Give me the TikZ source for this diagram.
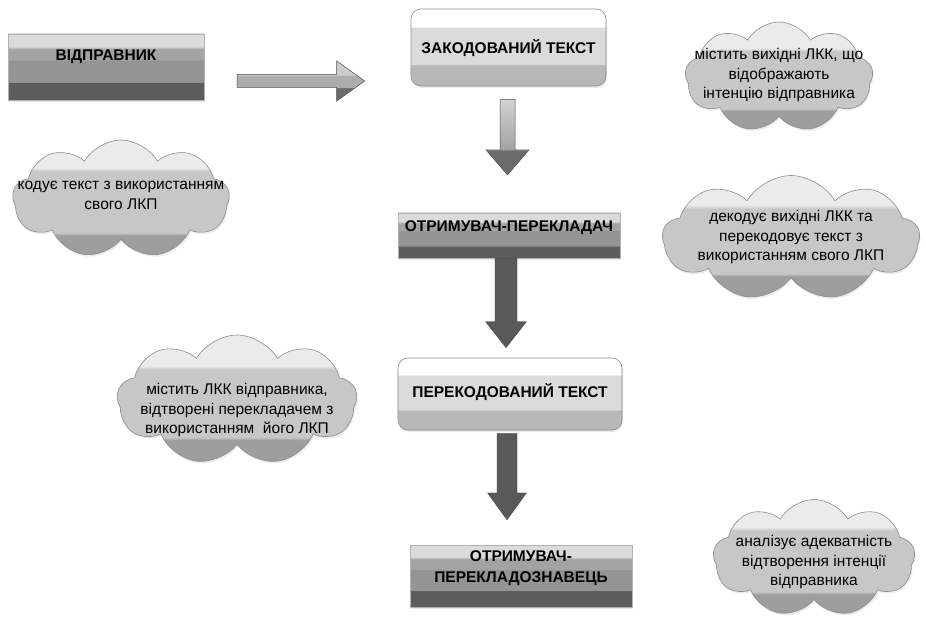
\documentclass[tikz,border=0pt]{standalone}
\usepackage{fontspec}
\setmainfont{Liberation Sans}
\usetikzlibrary{shapes.symbols,calc,shadows}

\definecolor{dkb}{gray}{0.36}
\definecolor{mdbA}{gray}{0.58}
\definecolor{mdbB}{gray}{0.64}
\definecolor{ltb}{gray}{0.86}
\definecolor{lbBot}{gray}{0.72}
\definecolor{lbMid}{gray}{0.86}
\definecolor{clLt}{gray}{0.92}
\definecolor{clMd}{gray}{0.78}
\definecolor{clDk}{gray}{0.62}
\definecolor{edge}{gray}{0.55}
\definecolor{arrDark}{gray}{0.35}
\definecolor{raLt}{gray}{0.80}
\definecolor{raMd}{gray}{0.68}
\definecolor{raDk}{gray}{0.42}
\definecolor{daTop}{gray}{0.82}
\definecolor{daMid}{gray}{0.64}

\pgfdeclareverticalshading{darkboxsh}{100bp}{color(0bp)=(dkb); color(38bp)=(dkb); color(38.6bp)=(mdbA); color(55bp)=(mdbA); color(55.6bp)=(mdbB); color(63.5bp)=(mdbB); color(65.5bp)=(ltb); color(100bp)=(ltb)}
\pgfdeclareverticalshading{lightboxsh}{100bp}{color(0bp)=(lbBot); color(38.5bp)=(lbBot); color(39.2bp)=(lbMid); color(62.8bp)=(lbMid); color(63.5bp)=(white); color(100bp)=(white)}
\pgfdeclareverticalshading{cloudsh}{100bp}{color(0bp)=(clDk); color(34bp)=(clDk); color(35bp)=(clMd); color(61.5bp)=(clMd); color(63bp)=(clLt); color(100bp)=(clLt)}
\pgfdeclareverticalshading{rarrsh}{100bp}{color(0bp)=(raDk); color(41.3bp)=(raDk); color(41.8bp)=(raMd); color(57bp)=(raMd); color(57.5bp)=(raLt); color(100bp)=(raLt)}
\pgfdeclareverticalshading{darrsh}{100bp}{color(0bp)=(raDk); color(41.3bp)=(raDk); color(41.8bp)=(daMid); color(75bp)=(daTop); color(100bp)=(daTop)}

\newcommand\zb[2]{\raisebox{#1}[0pt][0pt]{\makebox[0pt]{\begin{tabular}{@{}c@{}}#2\end{tabular}}}}
\newcommand\rarrow[6]{\path[#1] let \p1=(#2), \p2=(#3) in (\x1,\y1+#4) -- (\x2-#6,\y1+#4) -- (\x2-#6,\y1+#5) -- (\x2,\y1) -- (\x2-#6,\y1-#5) -- (\x2-#6,\y1-#4) -- (\x1,\y1-#4) -- cycle;}
\newcommand\darrow[6]{\path[#1] let \p1=(#2), \p2=(#3) in (\x1-#4,\y1) -- (\x1-#4,\y2+#6) -- (\x1-#5,\y2+#6) -- (\x1,\y2) -- (\x1+#5,\y2+#6) -- (\x1+#4,\y2+#6) -- (\x1+#4,\y1) -- cycle;}

\begin{document}
\begin{tikzpicture}[x=1pt,y=-1pt,
  darkbox/.style={rectangle, inner sep=0pt, shading=darkboxsh, draw=gray!60, line width=0.2pt,
    font=\fontsize{15.5}{18}\selectfont\bfseries,
    drop shadow={opacity=0.18, shadow xshift=1pt, shadow yshift=-2pt}},
  lightbox/.style={rectangle, rounded corners=10pt, inner sep=0pt, shading=lightboxsh, draw=edge, line width=0.6pt,
    font=\fontsize{15.5}{18}\selectfont\bfseries,
    drop shadow={opacity=0.18, shadow xshift=1pt, shadow yshift=-2pt}},
  cloudbox/.style={cloud, cloud puffs=9, cloud puff arc=120, cloud ignores aspect, inner sep=0pt,
    shading=cloudsh, draw=edge, line width=0.6pt, font=\fontsize{15.5}{19.5}\selectfont,
    drop shadow={opacity=0.15, shadow xshift=1pt, shadow yshift=-2pt}},
  darkarrow/.style={fill=arrDark, draw=gray!50!black, line width=0.3pt},
  lightarrow/.style={shading=rarrsh, draw=gray!60!black, line width=0.5pt},
  lightdarrow/.style={shading=darrsh, draw=gray!60!black, line width=0.5pt}
]
\useasboundingbox (0,0) rectangle (926,620);
\fill[white] (0,0) rectangle (926,620);

% boxes
\node[darkbox, minimum width=196, minimum height=66] (snd) at (106,67) {\zb{6pt}{ВІДПРАВНИК}};
\node[lightbox, minimum width=195, minimum height=77] (enc) at (508.5,47.5) {\zb{-5pt}{ЗАКОДОВАНИЙ ТЕКСТ}};
\node[darkbox, minimum width=222, minimum height=45] (rcv1) at (509,235.5) {\zb{3.5pt}{ОТРИМУВАЧ-ПЕРЕКЛАДАЧ}};
\node[lightbox, minimum width=224, minimum height=72] (rec) at (510,394) {\zb{-3pt}{ПЕРЕКОДОВАНИЙ ТЕКСТ}};
\node[darkbox, minimum width=222, minimum height=62] (rcv2) at (521,576) {\zb{4pt}{ОТРИМУВАЧ-\\[3pt]ПЕРЕКЛАДОЗНАВЕЦЬ}};

% clouds
\node[cloudbox, minimum width=188, minimum height=110] (c1) at (779,77) {\zb{-2pt}{містить вихідні ЛКК, що\\відображають\\інтенцію відправника}};
\node[cloudbox, minimum width=217, minimum height=118] (c2) at (121,199) {\zb{0pt}{кодує текст з використанням\\свого ЛКП}};
\node[cloudbox, minimum width=257, minimum height=125] (c3) at (791,238) {\zb{-3pt}{декодує вихідні ЛКК та\\перекодовує текст з\\використанням свого ЛКП}};
\node[cloudbox, minimum width=240, minimum height=130] (c4) at (237,400) {\zb{-14pt}{містить ЛКК відправника,\\відтворені перекладачем з\\використанням\ \ його ЛКП}};
\node[cloudbox, minimum width=202, minimum height=117] (c5) at (814,558) {\zb{-8pt}{аналізує адекватність\\відтворення інтенції\\відправника}};

% connector end points
\coordinate (a1s) at ($(snd.east)+(33,14)$);
\coordinate (a1t) at ($(enc.west)+(-46,33.5)$);
\coordinate (a2s) at ($(enc.south)+(-1,13)$);
\coordinate (a2t) at ($(rcv1.north)+(-1.5,-38)$);
\coordinate (a3s) at ($(rcv1.south)+(-3,0)$);
\coordinate (a3t) at ($(rec.north)+(-4,-10)$);
\coordinate (a4s) at ($(rec.south)+(-3,3)$);
\coordinate (a4t) at ($(rcv2.north)+(-14,-25)$);

% block arrows
\rarrow{lightarrow}{a1s}{a1t}{6.5pt}{20pt}{28pt}
\darrow{lightdarrow}{a2s}{a2t}{7.5pt}{21.5pt}{25pt}
\darrow{darkarrow}{a3s}{a3t}{11pt}{20.5pt}{26pt}
\darrow{darkarrow}{a4s}{a4t}{10pt}{19.5pt}{27pt}
\end{tikzpicture}
\end{document}
